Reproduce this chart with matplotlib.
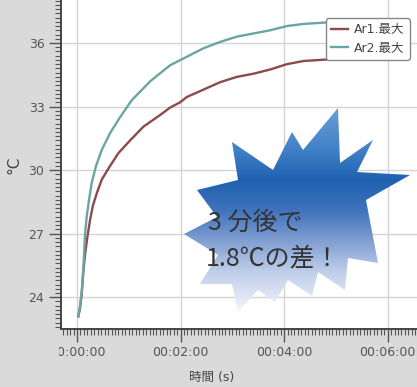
import numpy as np
import matplotlib
matplotlib.use("Agg")
import matplotlib.pyplot as plt
from matplotlib.ticker import MultipleLocator, FuncFormatter
from matplotlib.patches import Polygon
from matplotlib.transforms import Bbox

plt.rcParams['font.family'] = ['DejaVu Sans', 'Noto Sans CJK JP']

# readings (time in seconds, temperature in degC)
t_ar1 = [1.5, 3.5, 5.5, 7.5, 9.5, 12, 15.1, 18.2, 22.8, 28.6, 37.5, 47.9, 61.4, 76.9,
         96.2, 107.8, 119.4, 127.2, 146.5, 165.8, 185.1, 204.4, 223.8, 243.1, 262.4,
         281.7, 300]
v_ar1 = [23.1, 23.5, 24.2, 25.3, 26.1, 26.85, 27.65, 28.3, 28.9, 29.55, 30.15, 30.8,
         31.4, 32.05, 32.6, 32.95, 33.2, 33.45, 33.8, 34.15, 34.4, 34.55, 34.75, 35.0,
         35.15, 35.2, 35.25]
t_ar2 = [1.5, 3.5, 5.5, 7.5, 9.3, 11.2, 13.9, 17.0, 22.0, 28.6, 38.3, 49.9, 63.4, 85,
         107.8, 127.2, 146.5, 165.8, 185.1, 204.4, 223.8, 243.1, 262.4, 281.7, 300]
v_ar2 = [23.1, 23.6, 24.3, 25.5, 27.0, 27.8, 28.6, 29.4, 30.2, 30.95, 31.75, 32.5,
         33.3, 34.2, 34.95, 35.35, 35.75, 36.05, 36.3, 36.45, 36.6, 36.8, 36.9, 36.95,
         37.0]
labels = ["Ar1.最大", "Ar2.最大"]
colors = ["#8b4b4e", "#6ba5a3"]

W, H = 417, 387
fig = plt.figure(figsize=(W / 100, H / 100), dpi=100, facecolor="#dadada")
ax = fig.add_axes([61 / W, (H - 329) / H, 1 - 61 / W, 329 / H])
ax.set_facecolor("white")

ax.plot(t_ar1, v_ar1, color=colors[0], lw=1.7, label=labels[0])
ax.plot(t_ar2, v_ar2, color=colors[1], lw=1.7, label=labels[1])

ax.set_xlim(-18.6, 394)
ax.set_ylim(22.5, 38.03)
ax.xaxis.set_major_locator(MultipleLocator(120))
ax.xaxis.set_minor_locator(MultipleLocator(4))
ax.yaxis.set_major_locator(MultipleLocator(3))
ax.yaxis.set_minor_locator(MultipleLocator(0.2))

def hms(x, pos):
    s = int(round(x))
    return "%02d:%02d:%02d" % (s // 3600, (s // 60) % 60, s % 60)

ax.xaxis.set_major_formatter(FuncFormatter(hms))
ax.grid(True, which="major", color="#d4d4d4", lw=1)
ax.set_axisbelow(True)
for s in ["top", "right"]:
    ax.spines[s].set_visible(False)
for s in ["left", "bottom"]:
    ax.spines[s].set_color("#444444")
    ax.spines[s].set_linewidth(1.4)
ax.tick_params(which="major", length=9, width=1, color="#555555",
               labelsize=9, labelcolor="#555555", pad=3)
ax.tick_params(which="minor", length=4, width=0.8, color="#555555")

ax.set_xlabel("時間 (s)", fontsize=9, color="#444444")
ax.xaxis.set_label_coords(0.4225, -0.128)
ax.set_ylabel("°C", fontsize=11, color="#444444")
ax.yaxis.set_label_coords(-0.112, 0.5)

leg = ax.legend(loc="upper right", bbox_to_anchor=(0.980, 0.945), borderaxespad=0,
                fontsize=9, handlelength=1.4, handletextpad=0.5, labelspacing=0.45,
                fancybox=True, edgecolor="#888888", framealpha=1)
for txt in leg.get_texts():
    txt.set_color("#444444")
leg.get_frame().set_linewidth(1.0)

# cut the first tick label like the cropped original
fig.canvas.draw()
clip = Bbox.from_extents(59, 0, W, H)
for lab in ax.get_xticklabels():
    lab.set_clip_box(clip)
    lab.set_clip_on(True)

# starburst callout on an overlay in pixel coordinates
ov = fig.add_axes([0, 0, 1, 1], facecolor="none")
ov.set_xlim(0, W)
ov.set_ylim(H, 0)
ov.axis("off")

star = [(338, 108), (340, 163), (373, 140), (357, 172), (410, 175), (366, 200),
        (378, 263), (348, 258), (345, 290), (318, 272), (312, 296), (288, 280),
        (275, 302), (258, 290), (238, 312), (232, 284), (200, 284), (218, 255),
        (184, 234), (217, 217), (197, 190), (238, 180), (232, 142), (273, 170),
        (292, 132), (303, 150)]
poly = Polygon(star, closed=True, facecolor="none", edgecolor="none")
ov.add_patch(poly)

stops_y = [108, 150, 180, 210, 240, 270, 300, 318]
stops_c = np.array([[0.42, 0.62, 0.84], [0.25, 0.50, 0.78], [0.12, 0.38, 0.69],
                    [0.25, 0.45, 0.74], [0.50, 0.62, 0.82], [0.74, 0.80, 0.91],
                    [0.90, 0.92, 0.97], [1.0, 1.0, 1.0]])
yy = np.arange(105, 320)
grad = np.ones((len(yy), 2, 3))
for k in range(3):
    grad[:, :, k] = np.interp(yy, stops_y, stops_c[:, k])[:, None]
img = ov.imshow(grad, extent=[180, 412, 320, 105], aspect="auto", zorder=3,
                interpolation="bilinear")
img.set_clip_path(poly)
ov.set_xlim(0, W)
ov.set_ylim(H, 0)

jp = ['Noto Sans CJK JP', 'DejaVu Sans']
ov.text(208, 223, "3 分後で", fontsize=18, color="#333333", family=jp,
        va="center", ha="left", zorder=4)
ov.text(206, 258, "1.8℃の差！", fontsize=18, color="#333333", family=jp,
        va="center", ha="left", zorder=4)

fig.savefig("out.png", dpi=100, facecolor=fig.get_facecolor())
